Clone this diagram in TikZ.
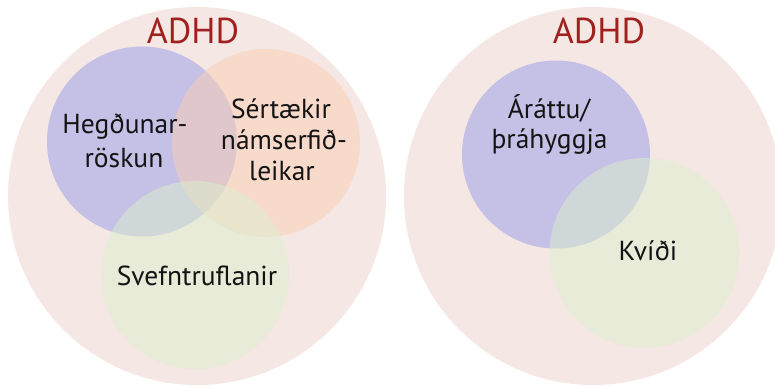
\documentclass[tikz,border=0pt]{standalone}
\usepackage{fontspec}
\setmainfont{PT Sans}
\definecolor{bgpink}{RGB}{245,231,227}
\definecolor{vblue}{RGB}{197,192,229}
\definecolor{vorange}{RGB}{251,207,181}
\definecolor{vgreen}{RGB}{219,239,205}
\definecolor{adhdred}{RGB}{160,32,30}
\definecolor{txt}{RGB}{20,20,20}
\tikzset{
  title/.style={anchor=base, inner sep=0pt, text=adhdred, font=\fontsize{36}{42}\selectfont},
  lbl/.style={anchor=base, inner sep=0pt, text=txt, font=\fontsize{27.5}{33}\selectfont},
  tcirc/.style={fill opacity=0.5}
}
\begin{document}
\begin{tikzpicture}[x=1pt,y=-1pt]
\useasboundingbox (0,0) rectangle (775,386);
% left diagram
\fill[bgpink] (197,196) circle[radius=189pt];
\fill[vblue] (142,141.5) circle[radius=95pt];
\fill[vorange,tcirc] (266,143) circle[radius=94pt];
\fill[vgreen,tcirc] (195,275) circle[radius=94pt];
\node[title] (adhdL) at (193,43) {ADHD};
\node[lbl] (hegA) at (125,133) {Hegðunar-};
\node[lbl] (hegB) at (124,167) {röskun};
\node[lbl] (serA) at (281,118) {Sértækir};
\node[lbl] (serB) at (284,149) {námserfið-};
\node[lbl] (serC) at (282,180) {leikar};
\node[lbl] (svef) at (197,285) {Svefntruflanir};
% right diagram
\fill[bgpink] (593,196) circle[radius=189pt];
\fill[vblue] (556,154.5) circle[radius=94pt];
\fill[vgreen,tcirc] (644.5,253) circle[radius=95pt];
\node[title] (adhdR) at (599,43) {ADHD};
\node[lbl] (arA) at (549,118) {Áráttu/};
\node[lbl] (arB) at (549.5,148) {þráhyggja};
\node[lbl] (kvi) at (648,260) {Kvíði};
\end{tikzpicture}
\end{document}
